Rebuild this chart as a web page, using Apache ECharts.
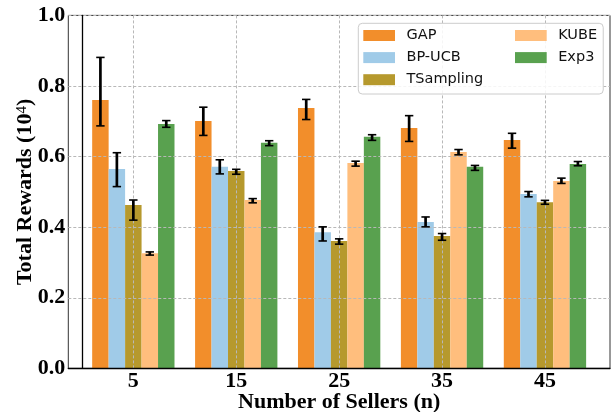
<!DOCTYPE html>
<html>
<head>
<meta charset="utf-8">
<script src="https://cdn.jsdelivr.net/npm/echarts@6/dist/echarts.min.js"></script>
<style>
html,body{margin:0;padding:0;background:#fff;}
#chart{width:613px;height:412px;}
</style>
</head>
<body>
<div id="chart"></div>
<script>
// ---- data ----
const sellers = [5, 15, 25, 35, 45];
const methods = ['GAP', 'BP-UCB', 'TSampling', 'KUBE', 'Exp3'];
const yTicks = [0.0, 0.2, 0.4, 0.6, 0.8, 1.0];

const gapMean = [0.760, 0.701, 0.738, 0.681, 0.647];
const gapLow  = [0.687, 0.660, 0.705, 0.643, 0.624];
const gapHigh = [0.881, 0.740, 0.762, 0.716, 0.666];

const bpucbMean = [0.565, 0.571, 0.386, 0.415, 0.494];
const bpucbLow  = [0.515, 0.551, 0.361, 0.401, 0.486];
const bpucbHigh = [0.611, 0.591, 0.401, 0.429, 0.501];

const tsMean = [0.463, 0.559, 0.361, 0.375, 0.471];
const tsLow  = [0.420, 0.550, 0.352, 0.363, 0.465];
const tsHigh = [0.477, 0.564, 0.367, 0.382, 0.476];

const kubeMean = [0.326, 0.477, 0.582, 0.613, 0.531];
const kubeLow  = [0.321, 0.469, 0.573, 0.605, 0.524];
const kubeHigh = [0.330, 0.481, 0.587, 0.620, 0.539];

const exp3Mean = [0.692, 0.639, 0.656, 0.571, 0.579];
const exp3Low  = [0.683, 0.631, 0.646, 0.561, 0.574];
const exp3High = [0.702, 0.645, 0.662, 0.575, 0.586];

const colors = ['#F28E2B', '#A0CBE8', '#B6992D', '#FFBE7D', '#59A14F'];

// ---- build ----
const means = [gapMean, bpucbMean, tsMean, kubeMean, exp3Mean];
const lows = [gapLow, bpucbLow, tsLow, kubeLow, exp3Low];
const highs = [gapHigh, bpucbHigh, tsHigh, kubeHigh, exp3High];
const BAR_W = 1.6; // bar width in x-axis units

function barRender(i) {
  return function (params, api) {
    const x = api.value(0) + (i - 2) * BAR_W;
    const p0 = api.coord([x - BAR_W / 2, api.value(1)]);
    const p1 = api.coord([x + BAR_W / 2, 0]);
    return {
      type: 'rect',
      shape: { x: p0[0], y: p0[1], width: p1[0] - p0[0], height: p1[1] - p0[1] },
      style: { fill: colors[i] }
    };
  };
}
function errRender(i) {
  return function (params, api) {
    const x = api.value(0) + (i - 2) * BAR_W;
    const lo = api.coord([x, api.value(1)]);
    const hi = api.coord([x, api.value(2)]);
    const cap = 4.2;
    return {
      type: 'group',
      children: [
        { type: 'line', shape: { x1: lo[0], y1: lo[1], x2: hi[0], y2: hi[1] }, style: { stroke: '#000', lineWidth: 2.7 } },
        { type: 'line', shape: { x1: lo[0] - cap, y1: lo[1], x2: lo[0] + cap, y2: lo[1] }, style: { stroke: '#000', lineWidth: 1.6 } },
        { type: 'line', shape: { x1: hi[0] - cap, y1: hi[1], x2: hi[0] + cap, y2: hi[1] }, style: { stroke: '#000', lineWidth: 1.6 } }
      ]
    };
  };
}

const series = [];
methods.forEach((m, i) => {
  series.push({
    name: m, type: 'custom', z: 2,
    itemStyle: { color: colors[i] },
    renderItem: barRender(i),
    encode: { x: 0, y: 1 },
    data: sellers.map((s, k) => [s, means[i][k]])
  });
});
methods.forEach((m, i) => {
  series.push({
    name: m + ' err', type: 'custom', z: 5,
    renderItem: errRender(i),
    encode: { x: 0, y: [1, 2] },
    data: sellers.map((s, k) => [s, lows[i][k], highs[i][k]])
  });
});

const serif = 'Liberation Serif';
const legendText = { fontFamily: 'DejaVu Sans', fontSize: 14.5, color: '#111', lineHeight: 16, padding: [0, 0, 0, 6.5] };

const option = {
  animation: false,
  backgroundColor: '#fff',
  grid: { left: 68.3, right: 3, top: 15.4, bottom: 43.6, show: true, borderColor: '#333', borderWidth: 1, containLabel: false, outerBoundsMode: 'none' },
  xAxis: {
    type: 'value', min: -1.32, max: 51.32, z: 3,
    name: 'Number of Sellers (n)', nameLocation: 'middle', nameGap: 23, nameMoveOverlap: false,
    nameTextStyle: { fontFamily: serif, fontWeight: 'bold', fontSize: 22, color: '#000' },
    axisLine: { show: true, onZero: false, lineStyle: { color: '#000', width: 1.3 } },
    axisTick: { show: false, customValues: sellers },
    axisLabel: { customValues: sellers, fontFamily: serif, fontWeight: 'bold', fontSize: 22, color: '#000', margin: 2 },
    splitLine: { show: true, lineStyle: { color: '#b8b8b8', type: [3, 2], width: 1 } }
  },
  yAxis: {
    type: 'value', min: 0, max: 1, interval: 0.2, z: 3,
    name: 'Total Rewards (10{sup|4})', nameLocation: 'middle', nameGap: 31, nameMoveOverlap: false,
    nameTextStyle: {
      fontFamily: serif, fontWeight: 'bold', fontSize: 22, color: '#000',
      rich: { sup: { fontFamily: serif, fontSize: 15, fontWeight: 'normal', color: '#000', verticalAlign: 'top', padding: [0, 0, 8, 0] } }
    },
    axisLine: { show: true, lineStyle: { color: '#000', width: 1.3 } },
    axisTick: { show: false },
    axisLabel: { formatter: v => v.toFixed(1), fontFamily: serif, fontWeight: 'bold', fontSize: 22, color: '#000', margin: 3 },
    splitLine: { show: true, lineStyle: { color: '#b8b8b8', type: [3, 2], width: 1 } }
  },
  legend: [
    {
      data: methods.slice(0, 3), orient: 'vertical', left: 358.3, top: 23.3, z: 8,
      icon: 'rect', itemWidth: 31.7, itemHeight: 11, itemGap: 6.1,
      padding: [4.2, 120, 6.3, 5], backgroundColor: 'rgba(255,255,255,0.85)',
      borderColor: '#cccccc', borderWidth: 1, borderRadius: 4,
      textStyle: legendText
    },
    {
      data: methods.slice(3), orient: 'vertical', left: 515, top: 27.5, z: 9,
      icon: 'rect', itemWidth: 31.7, itemHeight: 11, itemGap: 6.1, padding: 0,
      textStyle: legendText
    }
  ],
  series: series
};

const chart = echarts.init(document.getElementById('chart'), null, { renderer: 'canvas' });
chart.setOption(option);
</script>
</body>
</html>
